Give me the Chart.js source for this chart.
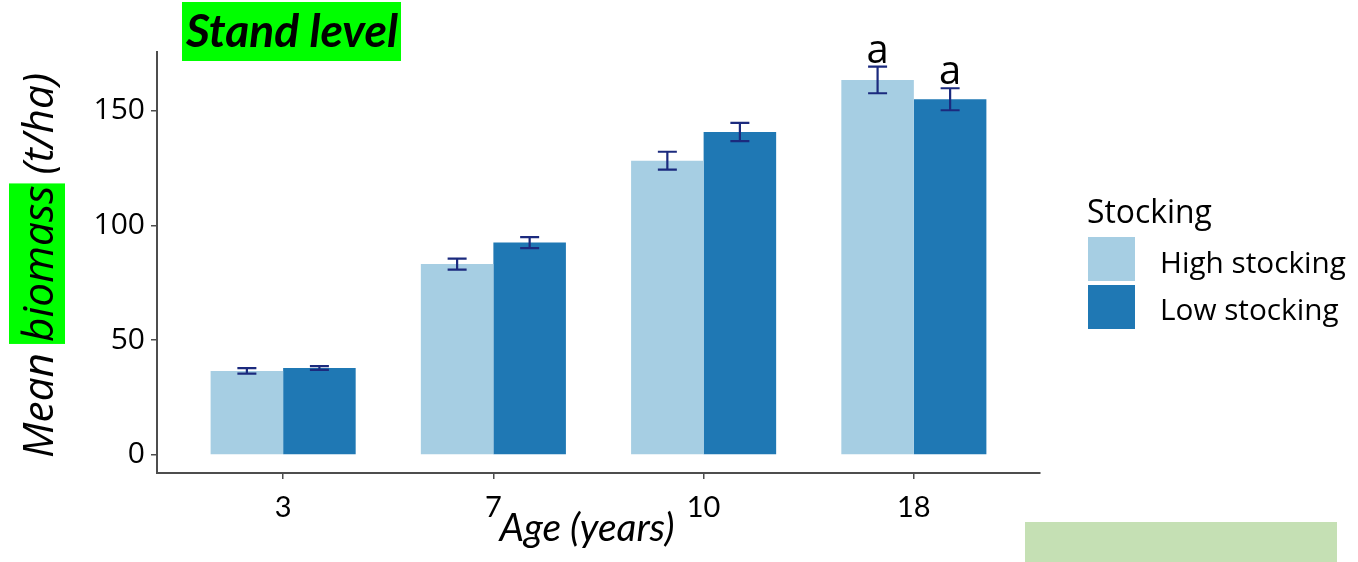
<!DOCTYPE html>
<html>
<head>
<meta charset="utf-8">
<script src="https://cdn.jsdelivr.net/npm/chart.js@4.4.1/dist/chart.umd.min.js"></script>
<style>
  html, body { margin: 0; padding: 0; background: #fff; }
  #wrap { width: 1358px; height: 562px; position: relative; }
</style>
</head>
<body>
<div id="wrap"><canvas id="c" width="1358" height="562"></canvas></div>
<script>
// Stand-level biomass by stand age and stocking level (mean ± SE, t/ha)
const ages = ['3', '7', '10', '18'];
const seriesNames = ['High stocking', 'Low stocking'];
const highMean = [36.6, 83.2, 128.3, 163.5];
const highErr = [1.2, 2.4, 3.9, 5.8];
const lowMean = [37.9, 92.6, 140.8, 155.1];
const lowErr = [0.8, 2.4, 4.0, 4.8];
const highLetters = ['', '', '', 'a'];
const lowLetters = ['', '', '', 'a'];
const yTicks = [0, 50, 100, 150];

const colors = ['#a6cee3', '#1f78b4'];
const errColor = '#1b2a7e';
const axisColor = '#4d4d4d';

function fitSize(ctx, text, style, family, width) {
  ctx.font = style + ' 100px ' + family;
  return 100 * width / ctx.measureText(text).width;
}

const errorBars = {
  id: 'errorBars',
  afterDatasetsDraw(chart) {
    const ctx = chart.ctx;
    const yScale = chart.scales.y;
    const errs = [highErr, lowErr];
    const means = [highMean, lowMean];
    const letters = [highLetters, lowLetters];
    ctx.save();
    chart.data.datasets.forEach((ds, d) => {
      const meta = chart.getDatasetMeta(d);
      meta.data.forEach((bar, i) => {
        const top = yScale.getPixelForValue(means[d][i] + errs[d][i]);
        const bot = yScale.getPixelForValue(means[d][i] - errs[d][i]);
        const x = bar.x;
        ctx.strokeStyle = errColor;
        ctx.lineWidth = 2.2;
        ctx.beginPath();
        ctx.moveTo(x, top); ctx.lineTo(x, bot);
        ctx.moveTo(x - 9.5, top); ctx.lineTo(x + 9.5, top);
        ctx.moveTo(x - 9.5, bot); ctx.lineTo(x + 9.5, bot);
        ctx.stroke();
        if (letters[d][i]) {
          ctx.fillStyle = '#000';
          ctx.font = '40px "Open Sans"';
          ctx.textAlign = 'center';
          ctx.textBaseline = 'alphabetic';
          ctx.fillText(letters[d][i], x, top - 4);
        }
      });
    });
    ctx.restore();
  }
};

const decorations = {
  id: 'decorations',
  beforeDraw(chart) {
    const ctx = chart.ctx;
    ctx.save();
    ctx.fillStyle = '#fff';
    ctx.fillRect(0, 0, chart.width, chart.height);
    ctx.restore();
  },
  afterDraw(chart) {
    const ctx = chart.ctx;
    ctx.save();

    // Panel title
    ctx.fillStyle = '#00ff00';
    ctx.fillRect(182, 2, 219, 59);
    let fs = fitSize(ctx, 'Stand level', 'italic bold', 'Lato', 212);
    ctx.font = 'italic bold ' + fs + 'px Lato';
    ctx.fillStyle = '#000';
    ctx.textAlign = 'left';
    ctx.textBaseline = 'alphabetic';
    ctx.fillText('Stand level', 186, 47);

    // Y axis title with highlighted word
    const full = 'Mean biomass (t/ha)';
    fs = fitSize(ctx, full, 'italic', '"Open Sans"', 385);
    ctx.font = 'italic ' + fs + 'px "Open Sans"';
    const L = ctx.measureText(full).width;
    const wMean = ctx.measureText('Mean ').width;
    const wBio = ctx.measureText('biomass').width;
    ctx.save();
    ctx.translate(53, 265.5);
    ctx.rotate(-Math.PI / 2);
    const x0 = -L / 2;
    ctx.fillStyle = '#00ff00';
    ctx.fillRect(x0 + wMean - 2, -44, wBio + 4, 56);
    ctx.fillStyle = '#000';
    ctx.textAlign = 'left';
    ctx.fillText(full, x0, 0);
    ctx.restore();

    // X axis title
    fs = fitSize(ctx, 'Age (years)', 'italic', 'Lato', 175);
    ctx.font = 'italic ' + fs + 'px Lato';
    ctx.textAlign = 'center';
    ctx.fillStyle = '#000';
    ctx.fillText('Age (years)', 587, 541);

    // Legend
    ctx.textAlign = 'left';
    fs = fitSize(ctx, 'Stocking', '', '"Open Sans"', 125);
    ctx.font = fs + 'px "Open Sans"';
    ctx.fillText('Stocking', 1087, 223);
    fs = fitSize(ctx, seriesNames[0], '', '"Open Sans"', 186);
    ctx.font = fs + 'px "Open Sans"';
    const rows = [[237, 273], [285, 320]];
    seriesNames.forEach((name, k) => {
      ctx.fillStyle = colors[k];
      ctx.fillRect(1088, rows[k][0], 47, 44);
      ctx.fillStyle = '#000';
      ctx.fillText(name, 1160, rows[k][1]);
    });

    // Box in the lower right corner
    ctx.fillStyle = '#c5e0b4';
    ctx.fillRect(1025, 522, 312, 40);

    ctx.restore();
  }
};

const chart = new Chart(document.getElementById('c'), {
  type: 'bar',
  data: {
    datasets: [
      { label: seriesNames[0], data: highMean.map((v, i) => ({ x: i, y: v })), backgroundColor: colors[0], borderWidth: 0 },
      { label: seriesNames[1], data: lowMean.map((v, i) => ({ x: i, y: v })), backgroundColor: colors[1], borderWidth: 0 }
    ]
  },
  options: {
    responsive: false,
    animation: false,
    devicePixelRatio: 1,
    layout: { padding: { left: 0, right: 318, top: 52, bottom: 0 } },
    datasets: { bar: { categoryPercentage: 0.69, barPercentage: 1.0 } },
    plugins: { legend: { display: false }, tooltip: { enabled: false } },
    scales: {
      x: {
        type: 'linear',
        min: -0.6,
        max: 3.6,
        offset: false,
        afterBuildTicks: s => { s.ticks = ages.map((_, i) => ({ value: i })); },
        afterFit: s => { s.height = 89; },
        ticks: {
          callback: v => ages[v],
          font: { family: 'Lato', size: 29 },
          color: '#000',
          padding: 11,
          autoSkip: false,
          maxRotation: 0
        },
        grid: { display: true, offset: false, drawOnChartArea: false, drawTicks: true, tickLength: 6, color: axisColor, lineWidth: 1.5 },
        border: { display: true, color: axisColor, width: 2 }
      },
      y: {
        min: -7.9,
        max: 175.7,
        afterBuildTicks: s => { s.ticks = yTicks.map(v => ({ value: v })); },
        afterFit: s => { s.width = 157; },
        ticks: {
          font: { family: '"Open Sans"', size: 30 },
          color: '#000',
          padding: 6
        },
        grid: { display: true, drawOnChartArea: false, drawTicks: true, tickLength: 6, color: axisColor, lineWidth: 1.5 },
        border: { display: true, color: axisColor, width: 2 }
      }
    }
  },
  plugins: [errorBars, decorations]
});
</script>
</body>
</html>
